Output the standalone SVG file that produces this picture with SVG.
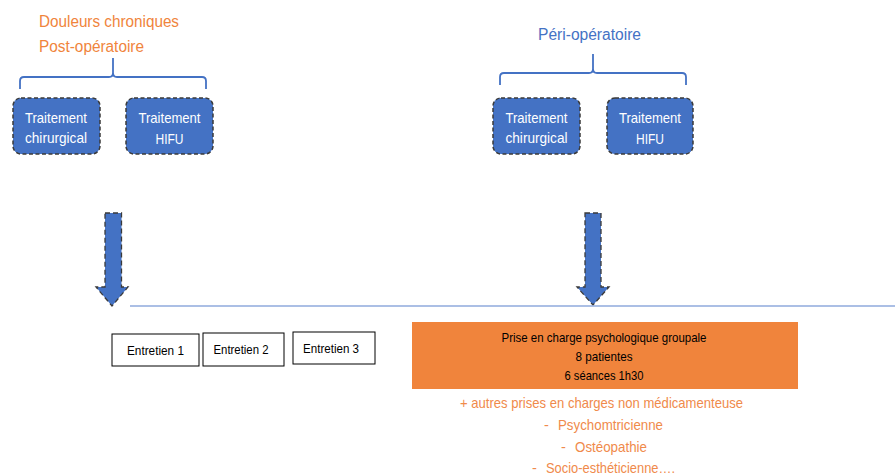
<svg xmlns="http://www.w3.org/2000/svg" width="895" height="476" viewBox="0 0 895 476">
<style>
text{font-family:"Liberation Sans",Arial,sans-serif}
.box{fill:#4472C4;stroke:#3a3a3a;stroke-width:1.5;stroke-dasharray:4 2.5}
.bt{fill:#ffffff;font-size:15px;text-anchor:middle}
.brace{fill:none;stroke:#4472C4;stroke-width:1.8}
.arrow{fill:#4472C4;stroke:#3a3a3a;stroke-width:1.3;stroke-dasharray:5 3}
.ent{fill:#ffffff;stroke:#000;stroke-width:1}
.et{fill:#000;font-size:12.5px;text-anchor:middle}
.or{fill:#F08A4B;font-size:14.5px}
.pt{fill:#000;font-size:13px;text-anchor:middle}
.ttl{font-size:16px}
</style>
<g id="title-left">
<text class="ttl" x="39" y="27" fill="#F0843C" textLength="140" lengthAdjust="spacingAndGlyphs">Douleurs chroniques</text>
<text class="ttl" x="39" y="52" fill="#F0843C" textLength="105" lengthAdjust="spacingAndGlyphs">Post-opératoire</text>
</g>
<g id="title-right">
<text class="ttl" x="538" y="40" fill="#4472C4" textLength="103" lengthAdjust="spacingAndGlyphs">Péri-opératoire</text>
</g>
<g id="braces">
<path class="brace" d="M20,89 V81 Q20,77 24,77 H109 Q113,77 113,73 V58 M113,73 Q113,77 117,77 H202 Q206,77 206,81 V89"/>
<path class="brace" d="M500,85 V77 Q500,73 504,73 H589 Q593,73 593,69 V54 M593,69 Q593,73 597,73 H682 Q686,73 686,77 V85"/>
</g>
<g id="left-chir">
<rect class="box" x="13" y="98" width="87" height="56" rx="8"/>
<text class="bt" x="56" y="122.5" textLength="62" lengthAdjust="spacingAndGlyphs">Traitement</text>
<text class="bt" x="56" y="143" textLength="62" lengthAdjust="spacingAndGlyphs">chirurgical</text>
</g>
<g id="left-hifu">
<rect class="box" x="126" y="98" width="87" height="56" rx="8"/>
<text class="bt" x="169.5" y="122.5" textLength="62" lengthAdjust="spacingAndGlyphs">Traitement</text>
<text class="bt" x="169.5" y="143.5" textLength="28" lengthAdjust="spacingAndGlyphs">HIFU</text>
</g>
<g id="right-chir">
<rect class="box" x="493" y="98" width="87" height="56" rx="8"/>
<text class="bt" x="536.5" y="122.5" textLength="62" lengthAdjust="spacingAndGlyphs">Traitement</text>
<text class="bt" x="536.5" y="143" textLength="62" lengthAdjust="spacingAndGlyphs">chirurgical</text>
</g>
<g id="right-hifu">
<rect class="box" x="607" y="98" width="86" height="56" rx="8"/>
<text class="bt" x="650" y="122.5" textLength="62" lengthAdjust="spacingAndGlyphs">Traitement</text>
<text class="bt" x="650" y="143.5" textLength="28" lengthAdjust="spacingAndGlyphs">HIFU</text>
</g>
<g id="connectors">
<path class="arrow" d="M105,213 H121.5 V287 H128 L112,306 L96,287 H105 Z"/>
<path class="arrow" d="M585,213 H601 V287 H609 L593,305 L577,287 H585 Z"/>
<line x1="130" y1="306" x2="895" y2="306" stroke="#8FAADC" stroke-width="1.3"/>
</g>
<g id="entretien1">
<rect class="ent" x="112" y="334" width="87" height="32"/>
<text class="et" x="155.5" y="355" textLength="57" lengthAdjust="spacingAndGlyphs">Entretien 1</text>
</g>
<g id="entretien2">
<rect class="ent" x="203" y="333" width="81" height="33"/>
<text class="et" x="241" y="354" textLength="55" lengthAdjust="spacingAndGlyphs">Entretien 2</text>
</g>
<g id="entretien3">
<rect class="ent" x="293" y="332" width="82" height="32"/>
<text class="et" x="331" y="352.5" textLength="56" lengthAdjust="spacingAndGlyphs">Entretien 3</text>
</g>
<g id="prise-en-charge">
<rect x="412" y="322" width="386" height="67" fill="#F0843C"/>
<text class="pt" x="604" y="341.5" textLength="205" lengthAdjust="spacingAndGlyphs">Prise en charge psychologique groupale</text>
<text class="pt" x="604" y="361" textLength="57" lengthAdjust="spacingAndGlyphs">8 patientes</text>
<text class="pt" x="604" y="380" textLength="79" lengthAdjust="spacingAndGlyphs">6 séances 1h30</text>
</g>
<g id="autres">
<text class="or" x="460" y="408" textLength="283" lengthAdjust="spacingAndGlyphs">+ autres prises en charges non médicamenteuse</text>
<text class="or"><tspan x="544" y="430">-</tspan><tspan x="558" y="430" textLength="105" lengthAdjust="spacingAndGlyphs">Psychomtricienne</tspan></text>
<text class="or"><tspan x="561" y="452">-</tspan><tspan x="575" y="452" textLength="72" lengthAdjust="spacingAndGlyphs">Ostéopathie</tspan></text>
<text class="or"><tspan x="532" y="473">-</tspan><tspan x="546" y="473" textLength="129" lengthAdjust="spacingAndGlyphs">Socio-esthéticienne….</tspan></text>
</g>
</svg>
